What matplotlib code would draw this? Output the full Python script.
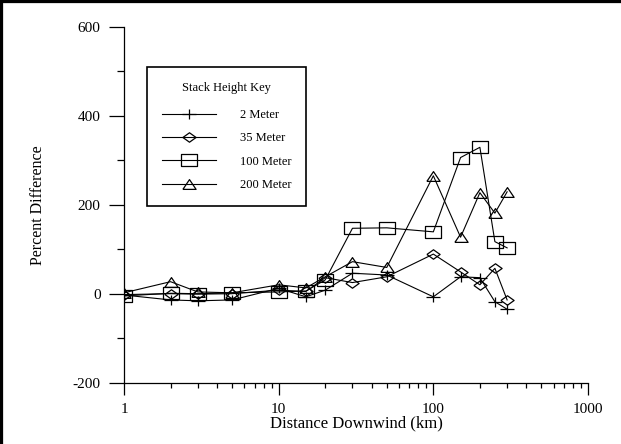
import matplotlib
matplotlib.use('Agg')
import matplotlib.pyplot as plt
from matplotlib.path import Path
from matplotlib.lines import Line2D
from matplotlib.ticker import FixedLocator, MultipleLocator, FixedFormatter, NullFormatter

plt.rcParams['font.family'] = ['Liberation Serif', 'DejaVu Serif']
plt.rcParams['axes.unicode_minus'] = False

# Data
distance = [1, 2, 3, 5, 10, 15, 20, 30, 50, 100, 150, 200, 250, 300]
m2 = [-3, -14, -16, -14, 12, -7, 8, 46, 42, -7, 38, 36, -18, -35]
m35 = [-2, 0, -1, 0, 8, 5, 36, 25, 38, 89, 49, 20, 57, -14]
m100 = [-5, 1, 0, 2, 4, 6, 31, 147, 148, 139, 306, 329, 117, 103]
m200 = [2, 27, 4, 2, 20, 13, 38, 72, 59, 265, 127, 227, 181, 229]
labels = ['2 Meter', '35 Meter', '100 Meter', '200 Meter']
x_ticks = [1, 10, 100, 1000]
x_tick_labels = ['1', '10', '100', '1000']

# Markers a bit wider than tall, like the original
M, L = Path.MOVETO, Path.LINETO
plus = Path([(-1.4, 0), (1.4, 0), (0, -1), (0, 1)], [M, L, M, L])
diamond = Path([(-1.4, 0), (0, 1), (1.4, 0), (0, -1), (-1.4, 0)])
square = Path([(-1.45, -1), (1.45, -1), (1.45, 1), (-1.45, 1), (-1.45, -1)])
triangle = Path([(-1.35, -1), (1.35, -1), (0, 1), (-1.35, -1)])

fig = plt.figure(figsize=(6.21, 4.44), dpi=100)
ax = fig.add_axes([124 / 621, 1 - 382.7 / 444, 464 / 621, 356 / 444])

series = [m2, m35, m100, m200]
markers = [plus, diamond, square, triangle]
sizes = [9.5, 9.5, 11.5, 9.5]
for vals, mk, ms, lab in zip(series, markers, sizes, labels):
    ax.plot(distance, vals, color='black', lw=0.8, marker=mk, ms=ms,
            mfc='none', mec='black', mew=0.9, label=lab)

ax.set_xscale('log')
ax.set_xlim(1, 1000)
ax.set_ylim(-200, 600)
ax.xaxis.set_major_locator(FixedLocator(x_ticks))
ax.xaxis.set_major_formatter(FixedFormatter(x_tick_labels))
ax.xaxis.set_minor_locator(FixedLocator([m * 10 ** e for e in range(3) for m in range(2, 10)]))
ax.xaxis.set_minor_formatter(NullFormatter())
ax.yaxis.set_major_locator(MultipleLocator(200))
ax.yaxis.set_minor_locator(MultipleLocator(100))

for s in ['top', 'right']:
    ax.spines[s].set_visible(False)
for s in ['left', 'bottom']:
    ax.spines[s].set_linewidth(0.9)

ax.tick_params(axis='y', which='major', direction='out', length=10.8, width=0.9, pad=6, labelsize=11)
ax.tick_params(axis='y', which='minor', direction='out', length=5, width=0.9)
ax.tick_params(axis='x', which='major', direction='out', length=8.3, width=0.9, pad=6, labelsize=11)
ax.tick_params(axis='x', which='minor', direction='out', length=3.6, width=0.9)

ax.set_xlabel('Distance Downwind (km)', fontsize=12, labelpad=0)
ax.set_ylabel('Percent Difference', fontsize=11.5, labelpad=19)

leg = ax.legend(title='Stack Height Key', loc='upper left', bbox_to_anchor=(0.05, 0.887),
                borderaxespad=0, fontsize=9, title_fontsize=9, fancybox=False,
                edgecolor='black', framealpha=1, handlelength=4.3, handletextpad=1.9,
                labelspacing=0.9, borderpad=1.2, markerscale=1.0)
leg.get_frame().set_linewidth(1.2)
leg._legend_box.sep = 11

# Thick border along the left and top of the image
fig.add_artist(Line2D([0, 0], [0, 1], color='black', lw=4.5, transform=fig.transFigure))
fig.add_artist(Line2D([0, 1], [1, 1], color='black', lw=4.5, transform=fig.transFigure))

fig.savefig('out.png', dpi=100)
